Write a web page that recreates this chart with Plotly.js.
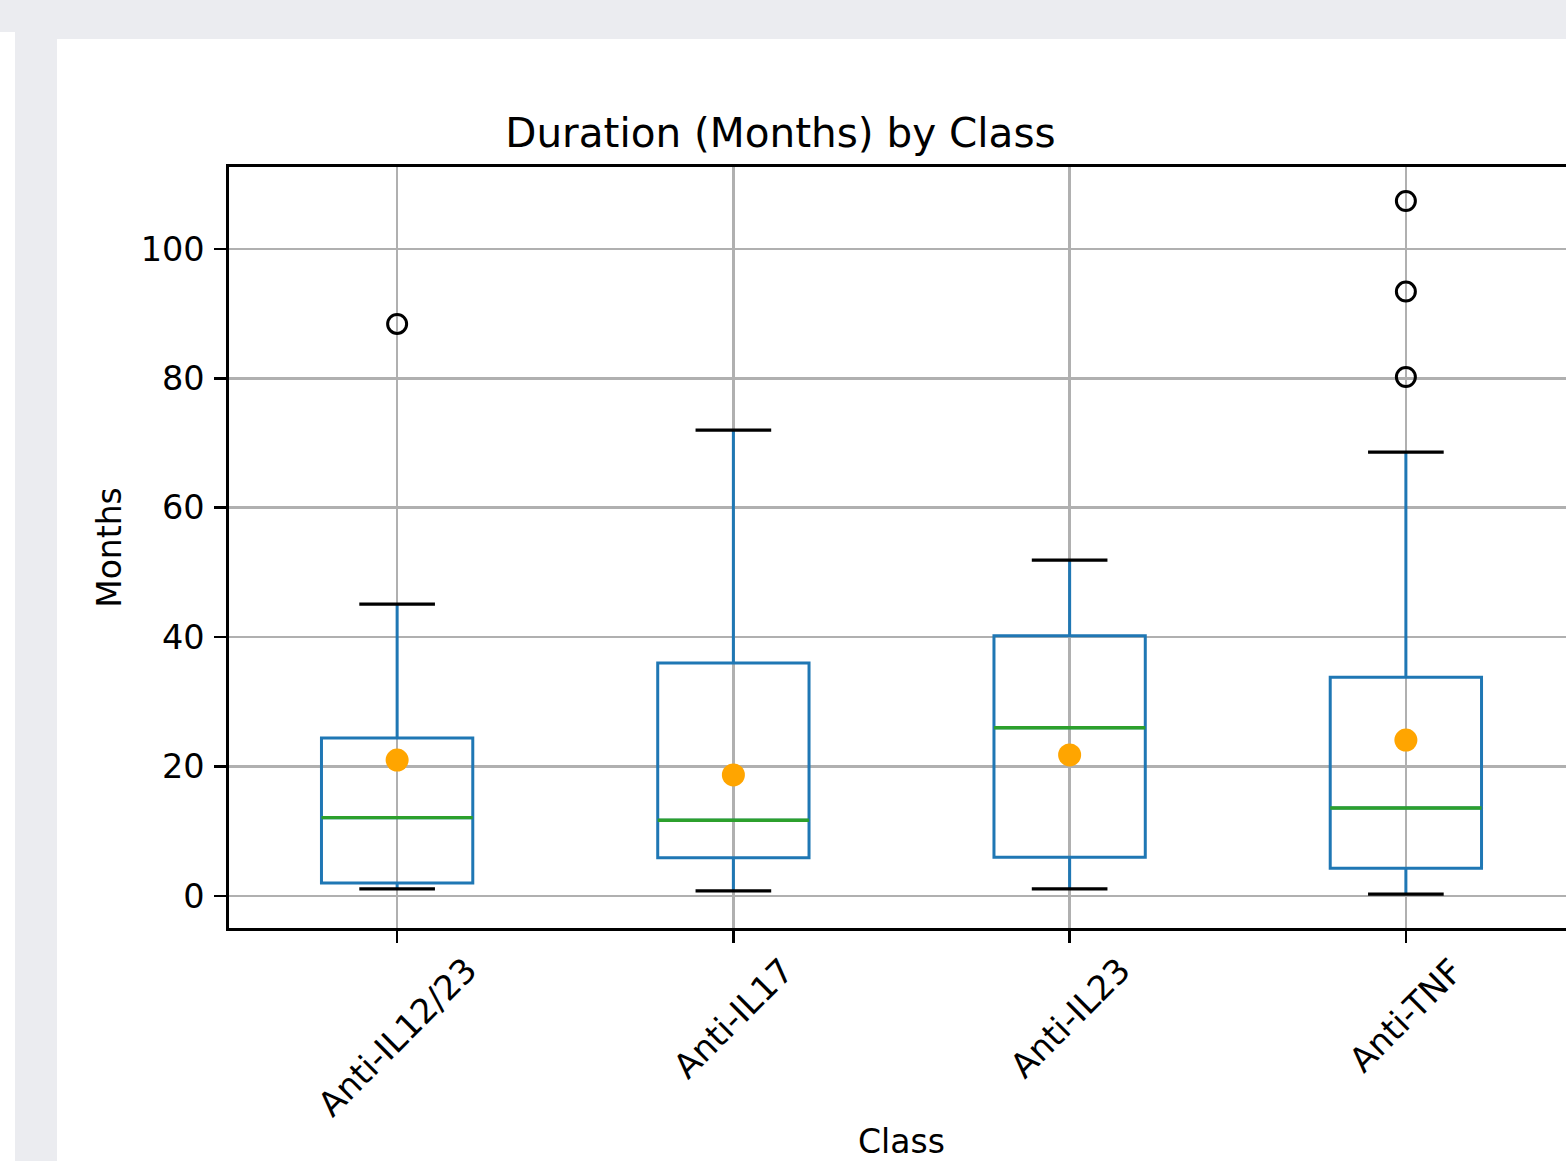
<!DOCTYPE html>
<html>
<head>
<meta charset="utf-8">
<script src="https://cdn.plot.ly/plotly-3.0.1.min.js"></script>
<style>
html, body { margin:0; padding:0; overflow:hidden; width:1566px; height:1161px; background:#ffffff; }
body { position:relative; }
.band { position:absolute; background:rgb(235,236,240); }
#chart { position:absolute; left:57px; top:39px; width:1567px; height:1142px; }
</style>
</head>
<body>
<div class="band" style="left:0;top:0;width:1566px;height:32px;"></div>
<div class="band" style="left:15px;top:0;width:42px;height:1161px;"></div>
<div class="band" style="left:57px;top:0;width:1509px;height:39px;"></div>
<div id="chart"></div>
<script>
// ---- data ----
const classes = ['Anti-IL12/23', 'Anti-IL17', 'Anti-IL23', 'Anti-TNF'];
const positions = [1, 2, 3, 4];
const lowerWhisker = [1.1, 0.8, 1.1, 0.3];
const q1 = [2.0, 5.9, 6.0, 4.3];
const medians = [12.1, 11.7, 26.0, 13.6];
const q3 = [24.4, 36.0, 40.2, 33.8];
const upperWhisker = [45.1, 72.0, 51.9, 68.6];
const means = [21.0, 18.7, 21.8, 24.1];
const outlierClass = ['Anti-IL12/23', 'Anti-TNF', 'Anti-TNF', 'Anti-TNF'];
const outlierValues = [88.4, 80.2, 93.4, 107.4];
const yTicks = [0, 20, 40, 60, 80, 100];

// ---- styling ----
const FONT = 'DejaVu Sans, Verdana, sans-serif';
const boxWidth = 0.45;
const capHalf = boxWidth / 4;
const boxHalf = boxWidth / 2;

function segs(centers, values, half) {
  const xs = [], ys = [];
  centers.forEach((c, i) => {
    xs.push(c - half, c + half, null);
    ys.push(values[i], values[i], null);
  });
  return {xs, ys};
}
const capLow = segs(positions, lowerWhisker, capHalf);
const capHigh = segs(positions, upperWhisker, capHalf);
const med = segs(positions, medians, boxHalf);
const outX = outlierClass.map(c => positions[classes.indexOf(c)]);

const traces = [
  {
    type: 'box', x: positions, q1: q1, median: medians, q3: q3,
    lowerfence: lowerWhisker, upperfence: upperWhisker,
    width: boxWidth, whiskerwidth: 0, boxpoints: false,
    line: {color: '#1f77b4', width: 3}, fillcolor: 'rgba(0,0,0,0)',
    hoverinfo: 'skip', showlegend: false
  },
  {
    type: 'scatter', mode: 'lines', x: med.xs, y: med.ys,
    line: {color: '#2ca02c', width: 3.4}, hoverinfo: 'skip', showlegend: false
  },
  {
    type: 'scatter', mode: 'lines', x: capLow.xs.concat(capHigh.xs), y: capLow.ys.concat(capHigh.ys),
    line: {color: '#000000', width: 3.2}, hoverinfo: 'skip', showlegend: false
  },
  {
    type: 'scatter', mode: 'markers', x: outX, y: outlierValues,
    marker: {symbol: 'circle-open', size: 19, color: '#000000', line: {color: '#000000', width: 3}},
    hoverinfo: 'skip', showlegend: false
  },
  {
    type: 'scatter', mode: 'markers', x: positions, y: means,
    marker: {symbol: 'circle', size: 23, color: '#FFA500', line: {width: 0}},
    hoverinfo: 'skip', showlegend: false
  }
];

const annotations = classes.map((c, i) => ({
  text: c, x: positions[i], xref: 'x', y: 0, yref: 'paper',
  xanchor: 'center', yanchor: 'top', yshift: -19, textangle: -45,
  showarrow: false, font: {family: FONT, size: 34, color: '#000000'}
}));

const layout = {
  width: 1567, height: 1142,
  paper_bgcolor: '#ffffff', plot_bgcolor: '#ffffff',
  margin: {l: 172, r: 50, t: 128, b: 253, pad: 0},
  font: {family: FONT, size: 33, color: '#000000'},
  showlegend: false,
  title: {
    text: 'Duration (Months) by Class',
    font: {family: FONT, size: 40.5, color: '#000000'},
    xref: 'paper', x: 0.41, xanchor: 'center',
    yref: 'container', y: 1 - 94 / 1142, yanchor: 'middle'
  },
  xaxis: {
    range: [0.5, 4.5], tickvals: positions, showticklabels: false,
    ticks: 'outside', ticklen: 12, tickwidth: 2.6, tickcolor: '#000000',
    showgrid: true, gridcolor: '#b0b0b0', gridwidth: 2.5,
    zeroline: false, showline: true, linecolor: '#000000', linewidth: 2.6, mirror: true,
    title: {text: 'Class', font: {family: FONT, size: 33, color: '#000000'}, standoff: 189}
  },
  yaxis: {
    range: [-4.95, 112.65], tickvals: yTicks, ticktext: yTicks.map(String),
    ticks: 'outside', ticklen: 12, tickwidth: 2.6, tickcolor: '#000000',
    ticklabelstandoff: 3,
    tickfont: {family: FONT, size: 33.5, color: '#000000'},
    showgrid: true, gridcolor: '#b0b0b0', gridwidth: 2.5,
    zeroline: false, showline: true, linecolor: '#000000', linewidth: 2.6, mirror: true,
    title: {text: 'Months', font: {family: FONT, size: 33, color: '#000000'}, standoff: 9}
  },
  annotations: annotations
};

Plotly.newPlot('chart', traces, layout, {displayModeBar: false, staticPlot: true});
</script>
</body>
</html>
